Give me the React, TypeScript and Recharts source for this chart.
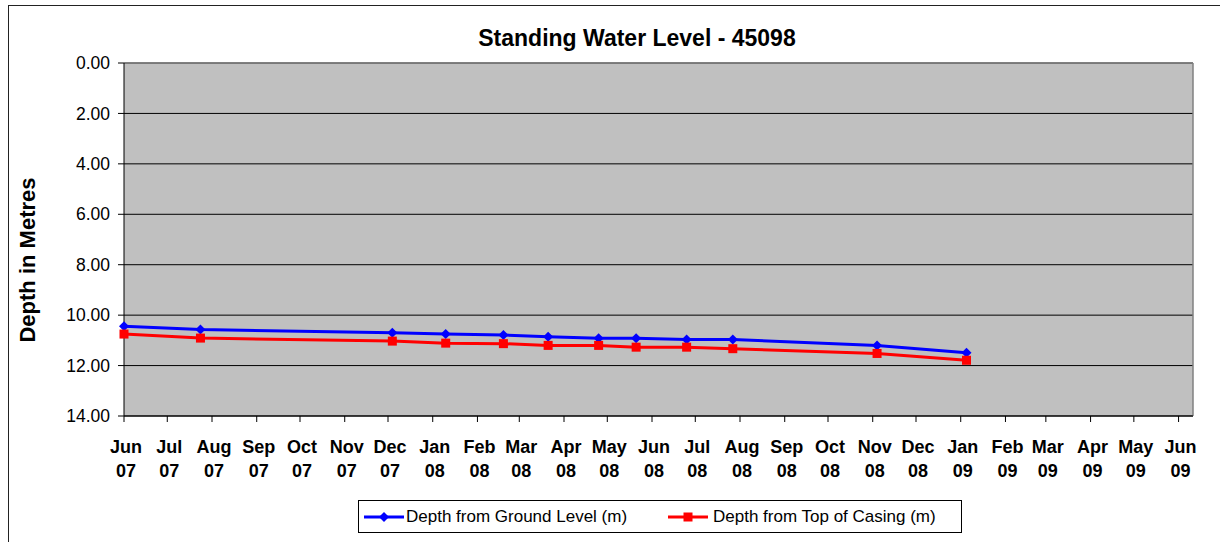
import { CartesianGrid, Label, Line, LineChart, ReferenceLine, XAxis, YAxis } from "recharts";

// Measurement dates (markers) and depths in metres
const SAMPLE_DATES = [
  "2007-06-01", "2007-07-24", "2007-12-04", "2008-01-10", "2008-02-19", "2008-03-21",
  "2008-04-25", "2008-05-21", "2008-06-25", "2008-07-27", "2008-11-04", "2009-01-05",
];
const GROUND_LEVEL = [10.44, 10.57, 10.7, 10.75, 10.79, 10.86, 10.92, 10.92, 10.97, 10.97, 11.2, 11.49];
const TOP_OF_CASING = [10.75, 10.91, 11.03, 11.11, 11.13, 11.2, 11.2, 11.27, 11.27, 11.33, 11.52, 11.79];

const MONTH_TICKS = [
  "2007-06-01", "2007-07-01", "2007-08-01", "2007-09-01", "2007-10-01", "2007-11-01", "2007-12-01",
  "2008-01-01", "2008-02-01", "2008-03-01", "2008-04-01", "2008-05-01", "2008-06-01", "2008-07-01",
  "2008-08-01", "2008-09-01", "2008-10-01", "2008-11-01", "2008-12-01", "2009-01-01", "2009-02-01",
  "2009-03-01", "2009-04-01", "2009-05-01", "2009-06-01",
];
const MONTH_LABELS = [
  "Jun 07", "Jul 07", "Aug 07", "Sep 07", "Oct 07", "Nov 07", "Dec 07",
  "Jan 08", "Feb 08", "Mar 08", "Apr 08", "May 08", "Jun 08", "Jul 08",
  "Aug 08", "Sep 08", "Oct 08", "Nov 08", "Dec 08", "Jan 09", "Feb 09",
  "Mar 09", "Apr 09", "May 09", "Jun 09",
];
const DEPTH_TICKS = [0, 2, 4, 6, 8, 10, 12, 14];

const X_MIN = Date.parse("2007-06-01");
const X_MAX = Date.parse("2009-06-11");
const tickTimes = MONTH_TICKS.map((d) => Date.parse(d));

const data = SAMPLE_DATES.map((d, i) => ({
  t: Date.parse(d),
  ground: GROUND_LEVEL[i],
  casing: TOP_OF_CASING[i],
}));

const FONT = '"Liberation Sans", Arial, sans-serif';
const BLUE = "#0000FF";
const RED = "#FF0000";

function Diamond({ cx, cy }: { cx?: number; cy?: number }) {
  if (cx == null || cy == null) return null;
  const r = 5;
  return (
    <path
      d={`M${cx},${cy - r}L${cx + r},${cy}L${cx},${cy + r}L${cx - r},${cy}Z`}
      fill={BLUE}
    />
  );
}

function Square({ cx, cy }: { cx?: number; cy?: number }) {
  if (cx == null || cy == null) return null;
  return <rect x={cx - 4.5} y={cy - 4.5} width={9} height={9} fill={RED} />;
}

function MonthTick({ x, y, payload }: any) {
  const i = tickTimes.indexOf(payload.value);
  const [m, yr] = (MONTH_LABELS[i] ?? "").split(" ");
  const cx = x + 2;
  return (
    <text x={cx} y={y} textAnchor="middle" fontSize={18} fontWeight="bold" fill="#000">
      <tspan x={cx} dy={29}>{m}</tspan>
      <tspan x={cx} dy={24}>{yr}</tspan>
    </text>
  );
}

export default function App() {
  return (
    <div
      style={{
        position: "absolute",
        left: 0,
        top: 0,
        width: 1220,
        height: 542,
        overflow: "hidden",
        background: "#fff",
        fontFamily: FONT,
      }}
    >
      {/* outer chart frame */}
      <div
        style={{
          position: "absolute",
          left: 8,
          top: 5,
          width: 1300,
          height: 600,
          borderLeft: "1.5px solid #222",
          borderTop: "1.5px solid #222",
        }}
      />

      <div
        style={{
          position: "absolute",
          left: 437,
          top: 27,
          width: 400,
          textAlign: "center",
          fontSize: 23,
          lineHeight: "23px",
          fontWeight: "bold",
          color: "#000",
        }}
      >
        Standing Water Level - 45098
      </div>

      <div style={{ position: "absolute", left: 0, top: 0 }}>
        <LineChart
          width={1220}
          height={542}
          data={data}
          margin={{ top: 63, right: 27, bottom: 66, left: 8 }}
        >
          <CartesianGrid
            vertical={false}
            stroke="#000"
            fill="#C0C0C0"
            fillOpacity={1}
          />
          <XAxis
            dataKey="t"
            type="number"
            scale="time"
            domain={[X_MIN, X_MAX]}
            ticks={tickTimes}
            interval={0}
            height={60}
            axisLine={{ stroke: "#000" }}
            tickLine={{ stroke: "#000" }}
            tickSize={6}
            tick={<MonthTick />}
          />
          <YAxis
            type="number"
            reversed
            domain={[0, 14]}
            ticks={DEPTH_TICKS}
            interval={0}
            width={116}
            axisLine={{ stroke: "#000" }}
            tickLine={{ stroke: "#000" }}
            tickSize={6}
            tickMargin={8}
            tickFormatter={(v: number) => v.toFixed(2)}
            tick={{ fontSize: 17.5, fill: "#000" }}
          >
            <Label
              content={() => (
                <text
                  x={35}
                  y={260}
                  transform="rotate(-90 35 260)"
                  textAnchor="middle"
                  fontSize={22}
                  fontWeight="bold"
                  fill="#000"
                >
                  Depth in Metres
                </text>
              )}
            />
          </YAxis>
          <ReferenceLine y={0} stroke="#808080" strokeWidth={1.5} />
          <ReferenceLine x={X_MAX} stroke="#808080" strokeWidth={1.5} />
          <Line
            dataKey="ground"
            stroke={BLUE}
            strokeWidth={3}
            dot={<Diamond />}
            activeDot={false}
            isAnimationActive={false}
          />
          <Line
            dataKey="casing"
            stroke={RED}
            strokeWidth={3}
            dot={<Square />}
            activeDot={false}
            isAnimationActive={false}
          />
        </LineChart>
      </div>

      {/* legend */}
      <div
        style={{
          position: "absolute",
          left: 358,
          top: 500,
          width: 604,
          height: 33,
          boxSizing: "border-box",
          border: "1px solid #000",
          background: "#fff",
          fontSize: 17,
          color: "#000",
        }}
      >
        <svg width={40} height={12} style={{ position: "absolute", left: 5, top: 10 }}>
          <line x1={0} y1={6} x2={40} y2={6} stroke={BLUE} strokeWidth={3} />
          <path d="M20,1L25,6L20,11L15,6Z" fill={BLUE} />
        </svg>
        <div style={{ position: "absolute", left: 47, top: 6, lineHeight: "20px", whiteSpace: "nowrap" }}>
          Depth from Ground Level (m)
        </div>
        <svg width={40} height={12} style={{ position: "absolute", left: 309, top: 10 }}>
          <line x1={0} y1={6} x2={40} y2={6} stroke={RED} strokeWidth={3} />
          <rect x={15.5} y={1.5} width={9} height={9} fill={RED} />
        </svg>
        <div style={{ position: "absolute", left: 354, top: 6, lineHeight: "20px", whiteSpace: "nowrap" }}>
          Depth from Top of Casing (m)
        </div>
      </div>
    </div>
  );
}
